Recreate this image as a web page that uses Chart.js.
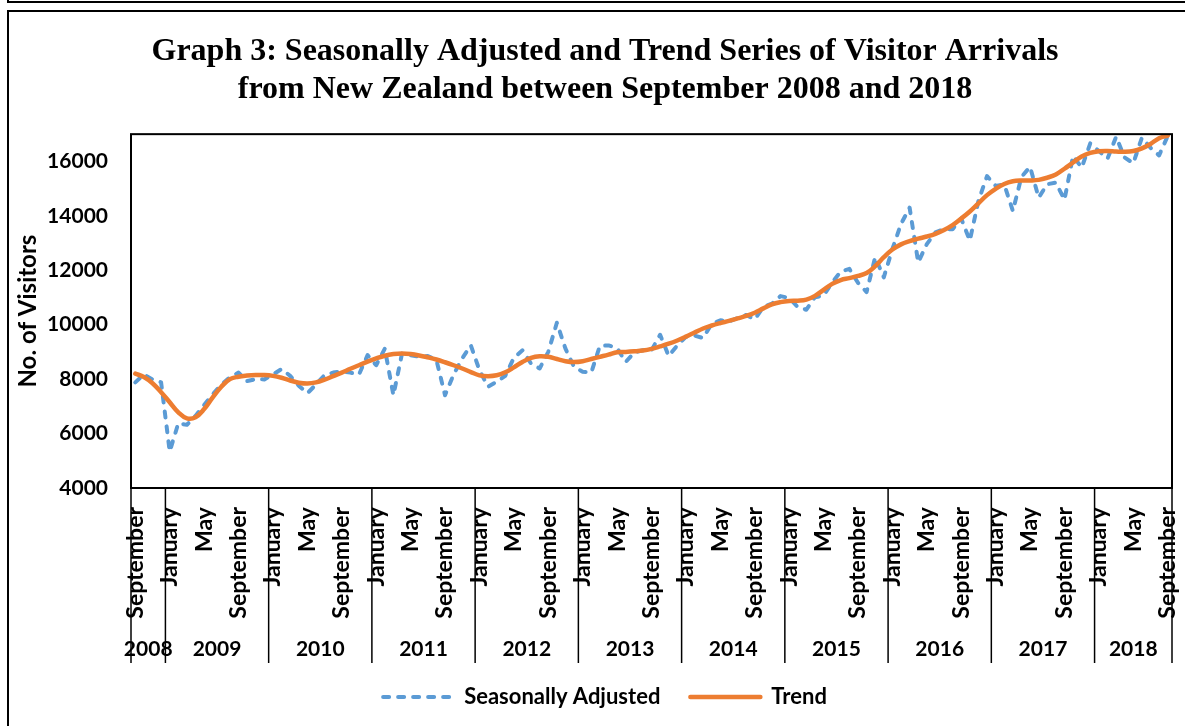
<!DOCTYPE html>
<html>
<head>
<meta charset="utf-8">
<script src="https://cdn.jsdelivr.net/npm/chart.js@4.4.1/dist/chart.umd.min.js"></script>
<style>
  html, body { margin: 0; padding: 0; background: #fff; overflow: hidden; width: 1185px; height: 726px; }
  .prev { position: absolute; left: 7px; top: -100px; width: 1300px; height: 99px; border: 2px solid #000; }
  .frame { position: absolute; left: 7px; top: 10px; width: 1300px; height: 800px; border: 2px solid #000; }
  #wrap { position: absolute; left: 10px; top: 12px; width: 1190px; height: 714px; }
</style>
</head>
<body>
<div class="prev"></div>
<div class="frame"></div>
<div id="wrap"><canvas id="chart" width="1190" height="714"></canvas></div>
<script>
// Visitor arrivals from New Zealand, monthly, Sep 2008 .. Sep 2018
const monthNames = ["January", "February", "March", "April", "May", "June", "July",
  "August", "September", "October", "November", "December"];
const startYear = 2008;
const startMonth = 8; // September

const seasonallyAdjusted = [
  7880, 8170, 7990, 7880, 5340, 6380, 6320, 6650, 7050, 7440, 7800, 8070,
  8240, 7930, 8000, 7990, 8170, 8370, 8120, 7760, 7480, 7800, 8150, 8240,
  8290, 8240, 8170, 8880, 8510, 9120, 7410, 8940, 8880, 8820, 8850, 8700,
  7410, 8170, 8760, 9240, 8330, 7720, 7900, 8120, 8780, 9060, 8570, 8390,
  9000, 10070, 9120, 8450, 8270, 8240, 9220, 9240, 9140, 8630, 8980, 9060,
  9060, 9630, 8850, 9240, 9550, 9600, 9510, 10040, 10160, 10120, 10240, 10360,
  10200, 10650, 10770, 11050, 10980, 10650, 10550, 11010, 11070, 11550, 11950, 12050,
  11540, 11200, 12480, 11740, 12780, 13700, 14300, 12290, 12960, 13390, 13510, 13510,
  13900, 13090, 14550, 15460, 15100, 15150, 14180, 15430, 15800, 14670, 15160, 15220,
  14590, 16200, 15770, 16660, 16380, 16100, 16900, 16140, 15930, 16870, 16500, 16220,
  16930
];

const trend = [
  8200, 8080, 7850, 7520, 7150, 6780, 6560, 6600, 6900, 7330, 7720, 8000,
  8090, 8130, 8150, 8150, 8120, 8050, 7950, 7870, 7840, 7880, 7980, 8110,
  8240, 8380, 8510, 8640, 8760, 8860, 8920, 8940, 8920, 8870, 8800, 8720,
  8620, 8510, 8390, 8260, 8140, 8110, 8140, 8250, 8430, 8630, 8780, 8840,
  8820, 8740, 8660, 8630, 8660, 8740, 8820, 8900, 8990, 9000, 9020, 9050,
  9110, 9200, 9300, 9420, 9560, 9710, 9860, 9970, 10060, 10140, 10230, 10320,
  10440, 10600, 10750, 10830, 10870, 10880, 10920, 11060, 11280, 11500, 11640, 11710,
  11790, 11900, 12150, 12480, 12760, 12950, 13070, 13160, 13240, 13340, 13480, 13660,
  13900, 14160, 14460, 14760, 14990, 15170, 15270, 15300, 15300, 15320, 15400, 15520,
  15730, 15960, 16180, 16310, 16370, 16380, 16360, 16350, 16380, 16480, 16640, 16850,
  16950
];

const yTickValues = [4000, 6000, 8000, 10000, 12000, 14000, 16000];
const yMin = 4000;
const yMax = 17000;

const categories = seasonallyAdjusted.map((_, i) => monthNames[(startMonth + i) % 12]);
const yearOf = seasonallyAdjusted.map((_, i) => startYear + Math.floor((startMonth + i) / 12));

const LABEL_FONT = "Lato";
const SEP_DEPTH = 175;

// plot border, year separators and year labels under the month labels
const yearAxis = {
  id: "yearAxis",
  afterDraw(chart) {
    const { ctx, chartArea: a, scales: { x } } = chart;
    ctx.save();
    ctx.strokeStyle = "#000";
    ctx.lineWidth = 2;
    ctx.strokeRect(a.left, a.top, a.right - a.left, a.bottom - a.top);

    ctx.lineWidth = 1.5;
    const seps = [a.left, a.right];
    categories.forEach((m, i) => {
      if (i > 0 && m === "January") seps.push((x.getPixelForValue(i - 1) + x.getPixelForValue(i)) / 2);
    });
    seps.forEach((px) => {
      ctx.beginPath();
      ctx.moveTo(px, a.bottom);
      ctx.lineTo(px, a.bottom + SEP_DEPTH);
      ctx.stroke();
    });

    ctx.fillStyle = "#000";
    ctx.font = `bold 21px ${LABEL_FONT}`;
    ctx.textAlign = "center";
    ctx.textBaseline = "middle";
    const years = [...new Set(yearOf)];
    years.forEach((yr) => {
      const first = yearOf.indexOf(yr);
      const last = yearOf.lastIndexOf(yr);
      const cx = (x.getPixelForValue(first) + x.getPixelForValue(last)) / 2;
      ctx.fillText(String(yr), cx, a.bottom + 161);
    });
    ctx.restore();
  },
};

new Chart(document.getElementById("chart"), {
  type: "line",
  data: {
    labels: categories,
    datasets: [
      {
        label: "Seasonally Adjusted",
        data: seasonallyAdjusted,
        borderColor: "#5B9BD5",
        backgroundColor: "#5B9BD5",
        borderWidth: 4,
        borderDash: [6, 9],
        borderCapStyle: "round",
        borderJoinStyle: "round",
        pointRadius: 0,
        tension: 0,
        order: 1,
      },
      {
        label: "Trend",
        data: trend,
        borderColor: "#ED7D31",
        backgroundColor: "#ED7D31",
        borderWidth: 4.5,
        borderCapStyle: "round",
        borderJoinStyle: "round",
        pointRadius: 0,
        tension: 0.4,
        order: 0,
      },
    ],
  },
  options: {
    responsive: false,
    animation: false,
    layout: { padding: { left: 0, right: 0, top: 0, bottom: 8 } },
    plugins: {
      title: {
        display: true,
        text: ["Graph 3: Seasonally Adjusted and Trend Series of Visitor Arrivals",
               "from New Zealand between September 2008 and 2018"],
        color: "#000",
        font: { family: "Liberation Serif", weight: "bold", size: 32, lineHeight: 1.19 },
        padding: { top: 21, bottom: 25 },
      },
      legend: {
        position: "bottom",
        labels: {
          usePointStyle: true,
          pointStyle: "line",
          pointStyleWidth: 70,
          color: "#000",
          font: { family: LABEL_FONT, weight: "bold", size: 22 },
          padding: 30,
          sort: (a, b) => a.datasetIndex - b.datasetIndex,
          generateLabels(chart) {
            const items = Chart.defaults.plugins.legend.labels.generateLabels(chart);
            items.forEach((it) => {
              const ds = chart.data.datasets[it.datasetIndex];
              it.lineDash = ds.borderDash || [];
              it.lineCap = ds.borderCapStyle;
              it.lineWidth = ds.borderWidth;
              it.strokeStyle = ds.borderColor;
            });
            return items;
          },
        },
      },
      tooltip: { enabled: false },
    },
    scales: {
      x: {
        offset: true,
        // tick marks are hidden but their length sets the gap above the month labels
        grid: { display: false, drawTicks: true, tickLength: 16 },
        border: { display: false },
        ticks: {
          autoSkip: false,
          maxRotation: 90,
          minRotation: 90,
          padding: 3,
          color: "#000",
          font: { family: LABEL_FONT, weight: "bold", size: 23 },
          callback: (v, i) => (i % 4 === 0 ? categories[i] : ""),
        },
        afterFit: (s) => { s.height = 168; },
      },
      y: {
        min: yMin,
        max: yMax,
        grid: { display: false, drawTicks: false },
        border: { display: false },
        afterBuildTicks: (s) => { s.ticks = yTickValues.map((v) => ({ value: v })); },
        ticks: {
          padding: 23,
          color: "#000",
          font: { family: LABEL_FONT, weight: "bold", size: 21 },
          callback: (v) => String(v),
        },
        title: {
          display: true,
          text: "No. of Visitors",
          color: "#000",
          font: { family: LABEL_FONT, weight: "bold", size: 24, lineHeight: 1.2 },
          padding: { top: 4, bottom: 0 },
        },
        afterFit: (s) => { s.width = 121; },
      },
      // empty right axis, only keeps the gap between plot and frame edge
      yRight: {
        position: "right",
        grid: { display: false, drawTicks: false },
        border: { display: false },
        ticks: { display: false },
        afterFit: (s) => { s.width = 28; },
      },
    },
  },
  plugins: [yearAxis],
});
</script>
</body>
</html>
